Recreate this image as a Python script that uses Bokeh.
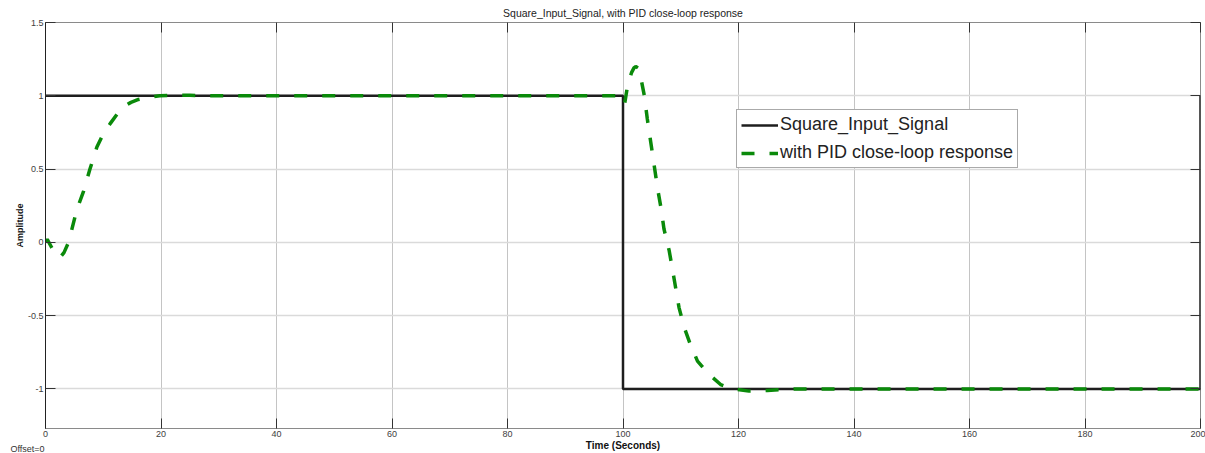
from math import pi
from bokeh.plotting import figure
from bokeh.models import Range1d, FixedTicker, LinearAxis, Label
from bokeh.embed import file_html
from bokeh.resources import INLINE

# ---- data ----
square_t = [0, 100, 100, 200, 200]
square_y = [1, 1, -1, -1, 1]

resp_t = [0, 0.3, 1.0, 1.5, 2.2, 2.7, 3.2, 4.0, 5.4, 6.6, 7.7, 8.9, 10.0, 11.2,
          12.4, 13.5, 14.8, 16.1, 17.8, 19.8, 22.0, 25.0, 30.0, 40.0, 60.0, 80.0,
          99.8, 100.3, 100.8, 101.5, 101.9, 102.2, 102.6, 103.0, 103.7, 104.2,
          104.8, 105.4, 106.0, 106.6, 107.1, 108.0, 108.9, 109.7, 110.6, 111.7,
          112.9, 114.9, 116.9, 119.0, 121.8, 125.0, 130.0, 140.0, 160.0, 180.0, 200.0]
resp_y = [0, 0.02, -0.03, -0.07, -0.10, -0.095, -0.07, 0.0, 0.22, 0.35, 0.50, 0.65,
          0.74, 0.81, 0.875, 0.925, 0.955, 0.975, 0.99, 1.0, 1.003, 1.003, 1.0, 1.0,
          1.0, 1.0, 1.0, 0.95, 1.07, 1.16, 1.19, 1.20, 1.19, 1.14, 1.0, 0.845, 0.685,
          0.525, 0.365, 0.23, 0.09, -0.057, -0.26, -0.445, -0.58, -0.70, -0.81, -0.90,
          -0.97, -1.0, -1.015, -1.01, -1.0, -1.0, -1.0, -1.0, -1.0]

x_ticks = [0, 20, 40, 60, 80, 100, 120, 140, 160, 180, 200]
y_ticks = [-1, -0.5, 0, 0.5, 1, 1.5]
y_tick_labels = ["-1", "-0.5", "0", "0.5", "1", "1.5"]

title_text = "Square_Input_Signal, with PID close-loop response"
x_label = "Time (Seconds)"
y_label = "Amplitude"
offset_text = "Offset=0"
series_names = ["Square_Input_Signal", "with PID close-loop response"]

FONT = "Liberation Sans"

p = figure(width=1205, height=453, output_backend="svg", toolbar_location=None,
           title=None,
           x_range=Range1d(0, 200), y_range=Range1d(-1.27, 1.5),
           min_border_left=45, min_border_right=5, min_border_top=22,
           min_border_bottom=24)
p.background_fill_color = "white"
p.border_fill_color = "white"
p.outline_line_color = "#8a8a8a"
p.outline_line_width = 1

bottom_ax = p.below[0]
left_ax = p.left[0]
bottom_ax.ticker = FixedTicker(ticks=x_ticks)
left_ax.ticker = FixedTicker(ticks=y_ticks)
left_ax.major_label_overrides = {t: s for t, s in zip(y_ticks, y_tick_labels)}

top_ax = LinearAxis(ticker=FixedTicker(ticks=x_ticks))
right_ax = LinearAxis(ticker=FixedTicker(ticks=y_ticks))
p.add_layout(top_ax, "above")
p.add_layout(right_ax, "right")

for ax in [bottom_ax, left_ax, top_ax, right_ax]:
    ax.major_tick_in = 10
    ax.major_tick_out = 0
    ax.major_tick_line_color = "#333333"
    ax.major_tick_line_width = 1
    ax.minor_tick_line_color = None
    ax.major_label_text_font = FONT
    ax.major_label_text_font_size = "9px"
    ax.major_label_text_color = "#404040"
for ax in [top_ax, right_ax]:
    ax.major_label_text_font_size = "0px"
    ax.major_label_text_color = None
    ax.major_label_standoff = 0
    ax.axis_line_color = None
bottom_ax.axis_line_color = "#8a8a8a"
left_ax.axis_line_color = "#222222"
bottom_ax.major_label_standoff = 2
left_ax.major_label_standoff = 2

bottom_ax.axis_label = x_label
bottom_ax.axis_label_text_font = FONT
bottom_ax.axis_label_text_font_size = "10px"
bottom_ax.axis_label_text_font_style = "bold"
bottom_ax.axis_label_text_color = "#111111"
bottom_ax.axis_label_standoff = 0

left_ax.axis_label = y_label
left_ax.axis_label_text_font = FONT
left_ax.axis_label_text_font_size = "9px"
left_ax.axis_label_text_font_style = "bold"
left_ax.axis_label_text_color = "#111111"
left_ax.axis_label_standoff = 0

# grid
p.xgrid.ticker = FixedTicker(ticks=x_ticks)
p.ygrid.ticker = FixedTicker(ticks=y_ticks)
p.xgrid.grid_line_color = "#c4c4c4"
p.xgrid.grid_line_width = 1
p.ygrid.grid_line_color = "#dadada"
p.ygrid.grid_line_width = 1.5

# series
p.line(square_t, square_y, line_color="#1e1e1e", line_width=2.5,
       legend_label=series_names[0])
p.line(resp_t, resp_y, line_color="#0a8a0a", line_width=3.5, line_dash="13 15",
       legend_label=series_names[1])

# legend
lg = p.legend[0]
lg.location = (691, 260)
lg.label_text_font = FONT
lg.label_text_font_size = "18px"
lg.label_text_color = "#222222"
lg.glyph_width = 37
lg.glyph_height = 20
lg.label_standoff = 2
lg.padding = 4
lg.spacing = 7
lg.margin = 0
lg.border_line_color = "#555555"
lg.border_line_width = 1
lg.background_fill_color = "white"
lg.background_fill_alpha = 1.0

# title and footer note, placed in the top side panel (canvas coordinates)
p.add_layout(Label(x=622.5, y=12, x_units="canvas", y_units="canvas",
                   text=title_text, text_font=FONT, text_font_size="10.5px",
                   text_color="#222222", text_align="center",
                   text_baseline="middle"), "above")
p.add_layout(Label(x=10, y=448, x_units="canvas", y_units="canvas",
                   text=offset_text, text_font=FONT, text_font_size="9px",
                   text_color="#333333", text_align="left",
                   text_baseline="middle"), "above")

open("out.html", "w").write(file_html(p, INLINE))
